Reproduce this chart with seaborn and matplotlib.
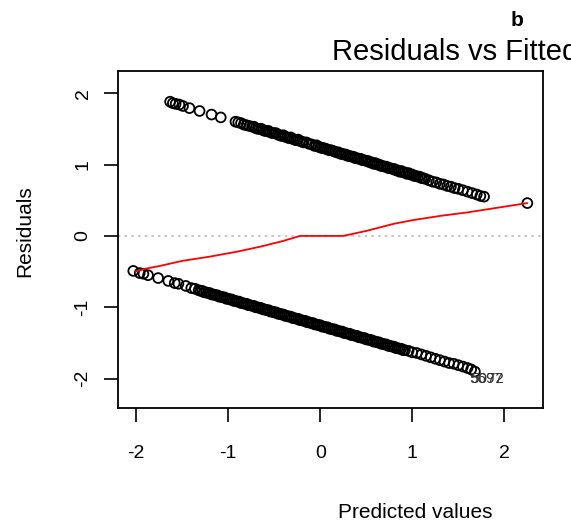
import matplotlib
matplotlib.use("Agg")
import matplotlib.pyplot as plt
import seaborn as sns
import pandas as pd

# ---- data ----
upper_x = [-1.63, -1.60, -1.57, -1.53, -1.49, -1.42, -1.31, -1.18, -1.08,
           -0.92, -0.89, -0.86, -0.83, -0.80, -0.77, -0.74, -0.70, -0.66, -0.62,
           -0.58, -0.54, -0.50, -0.46, -0.42, -0.38, -0.34, -0.30, -0.26, -0.22,
           -0.18, -0.12, -0.06, -0.02, 0.02, 0.06, 0.10, 0.14, 0.18, 0.22, 0.26,
           0.30, 0.34, 0.38, 0.42, 0.46, 0.50, 0.54, 0.58, 0.62, 0.66, 0.70,
           0.74, 0.78, 0.82, 0.86, 0.90, 0.94, 0.98, 1.02, 1.06, 1.10, 1.14,
           1.18, 1.22, 1.26, 1.30, 1.34, 1.38, 1.42, 1.46, 1.50, 1.55, 1.60,
           1.65, 1.70, 1.74, 1.78]
upper_y = [1.88, 1.86, 1.85, 1.84, 1.82, 1.79, 1.75, 1.70, 1.66,
           1.60, 1.59, 1.58, 1.56, 1.55, 1.54, 1.53, 1.51, 1.50, 1.48,
           1.47, 1.45, 1.44, 1.42, 1.40, 1.39, 1.37, 1.36, 1.34, 1.33,
           1.31, 1.29, 1.26, 1.25, 1.23, 1.22, 1.20, 1.19, 1.17, 1.15, 1.14,
           1.12, 1.11, 1.09, 1.08, 1.06, 1.05, 1.03, 1.01, 1.00, 0.98, 0.97,
           0.95, 0.94, 0.92, 0.90, 0.89, 0.87, 0.86, 0.84, 0.83, 0.81, 0.80,
           0.78, 0.76, 0.75, 0.73, 0.72, 0.70, 0.69, 0.67, 0.66, 0.64, 0.62,
           0.60, 0.58, 0.56, 0.55]

upper_x2 = [-0.72, -0.68, -0.64, -0.60, -0.56, -0.52, -0.48, -0.44, -0.40,
            -0.36, -0.32, -0.28, -0.24, -0.20, -0.15, -0.09, -0.04, 0.00, 0.04,
            0.08, 0.12, 0.16, 0.20, 0.24, 0.28, 0.32, 0.36, 0.40, 0.44, 0.48,
            0.52, 0.56, 0.60, 0.64, 0.68, 0.72, 0.76, 0.80, 0.84, 0.88, 0.92,
            0.96, 1.00, 1.04, 1.08, 1.12]
upper_y2 = [1.53, 1.50, 1.50, 1.47, 1.47, 1.44, 1.44, 1.41, 1.41,
            1.38, 1.38, 1.35, 1.35, 1.32, 1.31, 1.28, 1.27, 1.24, 1.23,
            1.21, 1.20, 1.18, 1.17, 1.15, 1.14, 1.12, 1.11, 1.09, 1.08, 1.06,
            1.05, 1.03, 1.02, 1.00, 0.98, 0.97, 0.95, 0.94, 0.92, 0.91, 0.89,
            0.88, 0.86, 0.84, 0.83, 0.81]

lower_x = [-2.03, -1.96, -1.92, -1.87, -1.76, -1.65, -1.58, -1.54, -1.46,
           -1.40, -1.36, -1.32, -1.28, -1.24, -1.20, -1.16, -1.12, -1.08, -1.04,
           -1.00, -0.96, -0.92, -0.88, -0.84, -0.80, -0.76, -0.72, -0.68, -0.64,
           -0.60, -0.56, -0.52, -0.48, -0.44, -0.40, -0.36, -0.32, -0.28, -0.24,
           -0.20, -0.16, -0.12, -0.08, -0.04, 0.00, 0.04, 0.08, 0.12, 0.16, 0.20,
           0.24, 0.28, 0.32, 0.36, 0.40, 0.44, 0.48, 0.52, 0.56, 0.60, 0.64,
           0.68, 0.72, 0.76, 0.80, 0.84, 0.88, 0.92, 0.96, 1.00, 1.05, 1.10,
           1.15, 1.20, 1.25, 1.30, 1.35, 1.40, 1.45, 1.50, 1.55, 1.60, 1.64, 1.68]
lower_y = [-0.49, -0.52, -0.53, -0.55, -0.59, -0.63, -0.66, -0.67, -0.70,
           -0.73, -0.74, -0.76, -0.77, -0.79, -0.80, -0.82, -0.83, -0.85, -0.86,
           -0.88, -0.89, -0.91, -0.92, -0.94, -0.95, -0.97, -0.98, -1.00, -1.01,
           -1.03, -1.04, -1.06, -1.07, -1.09, -1.10, -1.12, -1.13, -1.15, -1.16,
           -1.18, -1.19, -1.21, -1.22, -1.24, -1.25, -1.27, -1.28, -1.30, -1.31,
           -1.33, -1.34, -1.36, -1.37, -1.39, -1.40, -1.42, -1.43, -1.45, -1.46,
           -1.48, -1.49, -1.51, -1.52, -1.54, -1.55, -1.57, -1.58, -1.60, -1.61,
           -1.63, -1.64, -1.66, -1.68, -1.70, -1.72, -1.74, -1.76, -1.78, -1.79,
           -1.81, -1.83, -1.85, -1.87, -1.90]

lower_x2 = [-1.30, -1.26, -1.22, -1.18, -1.14, -1.10, -1.06, -1.02, -0.98,
            -0.94, -0.90, -0.86, -0.82, -0.78, -0.74, -0.70, -0.66, -0.62,
            -0.58, -0.54, -0.50, -0.46, -0.42, -0.38, -0.34, -0.30, -0.26,
            -0.22, -0.18, -0.14, -0.10, -0.06, -0.02, 0.02, 0.06, 0.10, 0.14,
            0.18, 0.22, 0.26, 0.30, 0.34, 0.38, 0.42, 0.46, 0.50, 0.54, 0.58,
            0.62, 0.66, 0.70, 0.74, 0.78, 0.82, 0.86, 0.90]
lower_y2 = [-0.77, -0.79, -0.80, -0.82, -0.83, -0.85, -0.86, -0.88, -0.89,
            -0.91, -0.92, -0.94, -0.95, -0.97, -0.98, -1.00, -1.01, -1.03,
            -1.04, -1.06, -1.07, -1.09, -1.10, -1.12, -1.13, -1.15, -1.16,
            -1.18, -1.19, -1.21, -1.22, -1.24, -1.25, -1.27, -1.28, -1.30, -1.31,
            -1.33, -1.34, -1.36, -1.37, -1.39, -1.40, -1.42, -1.43, -1.45, -1.46,
            -1.48, -1.49, -1.51, -1.52, -1.54, -1.55, -1.57, -1.58, -1.60]

outlier_x = [2.25]
outlier_y = [0.46]

smooth_x = [-2.01, -1.90, -1.74, -1.50, -1.20, -0.90, -0.65, -0.40, -0.22,
            0.25, 0.50, 0.80, 1.00, 1.30, 1.60, 1.80, 2.25]
smooth_y = [-0.50, -0.46, -0.42, -0.35, -0.29, -0.22, -0.15, -0.07, 0.00,
            0.00, 0.07, 0.17, 0.22, 0.28, 0.33, 0.37, 0.46]

point_labels = ["5072", "5697"]
label_x = [1.81, 1.80]
label_y = [-2.01, -2.01]

x_ticks = [-2, -1, 0, 1, 2]
y_ticks = [-2, -1, 0, 1, 2]

# ---- plot ----
sns.set_style("white")
plt.rcParams["font.family"] = ["Liberation Sans", "DejaVu Sans"]
plt.rcParams["text.color"] = "black"

fig = plt.figure(figsize=(5.71, 5.32), dpi=100)
ax = fig.add_axes([118 / 571, 1 - 408 / 532, (543 - 118) / 571, (408 - 71) / 532])

pts = pd.DataFrame({
    "x": upper_x + upper_x2 + lower_x + lower_x2 + outlier_x,
    "y": upper_y + upper_y2 + lower_y + lower_y2 + outlier_y,
})
sm = pd.DataFrame({"x": smooth_x, "y": smooth_y})

ax.axhline(0, color="#bebebe", linestyle=(0, (1.5, 2.5)), linewidth=1.2, zorder=1)
sns.scatterplot(data=pts, x="x", y="y", ax=ax, marker="o", s=50,
                facecolor="none", edgecolor="black", linewidth=1.3, zorder=3)
sns.lineplot(data=sm, x="x", y="y", ax=ax, color="red", linewidth=1.3,
             sort=False, estimator=None, zorder=4)

for t, lx, ly in zip(point_labels, label_x, label_y):
    ax.text(lx, ly, t, ha="center", va="center", fontsize=11, color="#333333")

ax.set_xlim(-2.196, 2.42)
ax.set_ylim(-2.41, 2.31)
ax.set_xticks(x_ticks)
ax.set_yticks(y_ticks)
ax.set_xticklabels([str(v) for v in x_ticks])
ax.set_yticklabels([str(v) for v in y_ticks], rotation=90, va="center")
ax.tick_params(axis="both", direction="out", length=10, width=1.2,
               labelsize=14, colors="black", labelcolor="black",
               bottom=True, left=True)
ax.tick_params(axis="x", pad=17)
ax.tick_params(axis="y", pad=9)
for s in ax.spines.values():
    s.set_color("black")
    s.set_linewidth(1.3)
ax.set_xlabel("")
ax.set_ylabel("")

fig.text(25 / 571, 1 - 231 / 532, "Residuals", rotation=90, ha="center", va="center",
         fontsize=15, color="black")
fig.text(415 / 571, 1 - 512 / 532, "Predicted values", ha="center", va="center",
         fontsize=15, color="black")
fig.text(332 / 571, 1 - 60 / 532, "Residuals vs Fitted", ha="left", va="baseline",
         fontsize=21, color="black")
fig.text(517 / 571, 1 - 26 / 532, "b", ha="center", va="baseline", fontsize=15,
         fontweight="bold", color="black")

fig.savefig("out.png", dpi=100)
